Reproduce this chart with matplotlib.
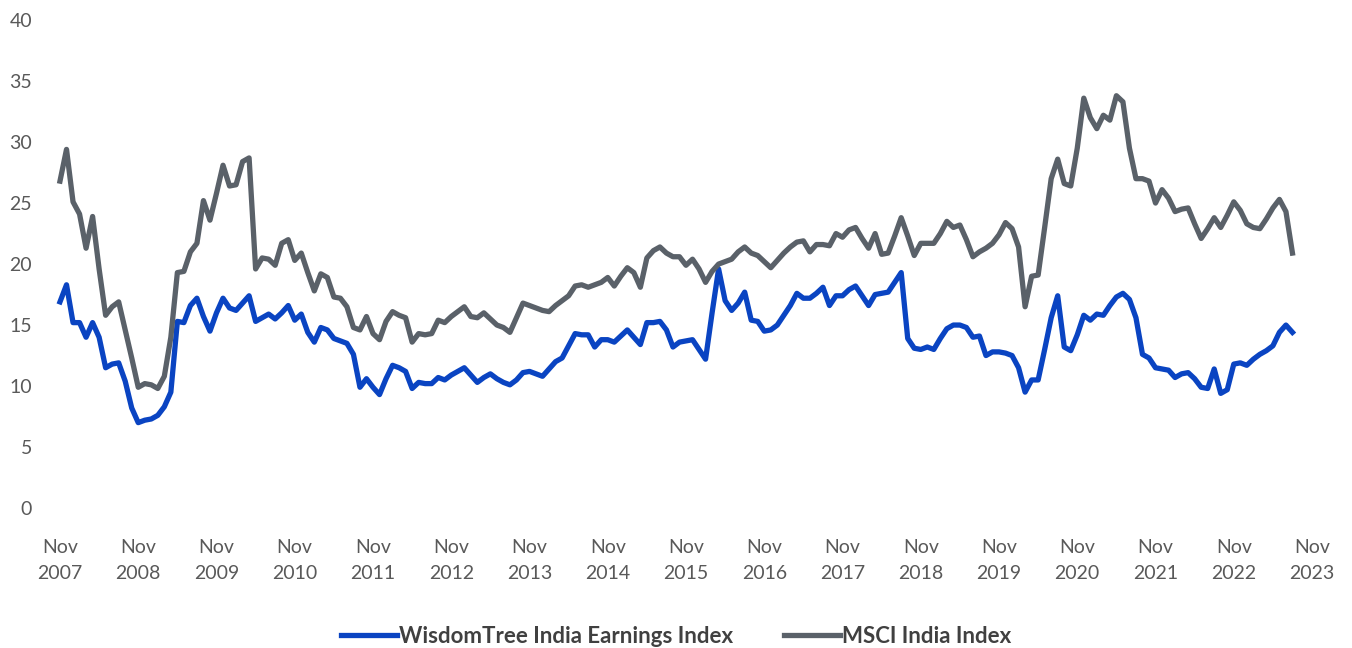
import matplotlib
matplotlib.use("Agg")
import matplotlib.pyplot as plt

plt.rcParams['font.family'] = ['Lato', 'DejaVu Sans']

# monthly values, Nov 2007 onward
wisdomtree = [
    16.9, 18.3, 15.2, 15.2, 14.0, 15.2, 14.0, 11.5, 11.8, 11.9,
    10.4, 8.2, 7.0, 7.2, 7.3, 7.6, 8.3, 9.5, 15.3, 15.2,
    16.6, 17.2, 15.7, 14.5, 16.0, 17.2, 16.4, 16.2, 16.8, 17.4,
    15.3, 15.6, 15.9, 15.5, 16.0, 16.6, 15.4, 15.9, 14.4, 13.6,
    14.8, 14.6, 13.9, 13.7, 13.5, 12.6, 9.9, 10.6, 9.9, 9.3,
    10.6, 11.7, 11.5, 11.2, 9.8, 10.3, 10.2, 10.2, 10.7, 10.5,
    10.9, 11.2, 11.5, 10.9, 10.3, 10.7, 11.0, 10.6, 10.3, 10.1,
    10.5, 11.1, 11.2, 11.0, 10.8, 11.4, 12.0, 12.3, 13.3, 14.3,
    14.2, 14.2, 13.2, 13.8, 13.8, 13.6, 14.1, 14.6, 14.0, 13.4,
    15.2, 15.2, 15.3, 14.6, 13.2, 13.6, 13.7, 13.8, 13.0, 12.2,
    16.0, 19.6, 17.0, 16.2, 16.8, 17.7, 15.4, 15.3, 14.5, 14.6,
    15.0, 15.8, 16.6, 17.6, 17.2, 17.2, 17.6, 18.1, 16.6, 17.4,
    17.4, 17.9, 18.2, 17.4, 16.6, 17.5, 17.6, 17.7, 18.5, 19.3,
    13.9, 13.1, 13.0, 13.2, 13.0, 13.9, 14.7, 15.0, 15.0, 14.8,
    14.0, 14.1, 12.5, 12.8, 12.8, 12.7, 12.5, 11.5, 9.5, 10.5,
    10.5, 13.0, 15.6, 17.4, 13.2, 12.9, 14.2, 15.8, 15.4, 15.9,
    15.8, 16.6, 17.3, 17.6, 17.1, 15.6, 12.6, 12.3, 11.5, 11.4,
    11.3, 10.7, 11.0, 11.1, 10.6, 9.9, 9.8, 11.4, 9.4, 9.7,
    11.8, 11.9, 11.7, 12.2, 12.6, 12.9, 13.3, 14.4, 15.0, 14.4,
]
msci = [
    26.8, 29.4, 25.1, 24.1, 21.3, 23.9, 19.6, 15.8, 16.5, 16.9,
    14.6, 12.3, 9.9, 10.2, 10.1, 9.8, 10.8, 14.0, 19.3, 19.4,
    21.0, 21.7, 25.2, 23.6, 25.8, 28.1, 26.4, 26.5, 28.4, 28.7,
    19.6, 20.5, 20.4, 19.9, 21.7, 22.0, 20.3, 20.9, 19.3, 17.8,
    19.2, 18.9, 17.3, 17.2, 16.5, 14.8, 14.6, 15.7, 14.3, 13.8,
    15.3, 16.1, 15.8, 15.6, 13.6, 14.3, 14.2, 14.3, 15.4, 15.2,
    15.7, 16.1, 16.5, 15.7, 15.6, 16.0, 15.5, 15.0, 14.8, 14.4,
    15.6, 16.8, 16.6, 16.4, 16.2, 16.1, 16.6, 17.0, 17.4, 18.2,
    18.3, 18.1, 18.3, 18.5, 18.9, 18.2, 19.0, 19.7, 19.3, 18.1,
    20.5, 21.1, 21.4, 20.9, 20.6, 20.6, 19.9, 20.4, 19.6, 18.5,
    19.4, 20.0, 20.2, 20.4, 21.0, 21.4, 20.9, 20.7, 20.2, 19.7,
    20.3, 20.9, 21.4, 21.8, 21.9, 21.0, 21.6, 21.6, 21.5, 22.5,
    22.2, 22.8, 23.0, 22.1, 21.3, 22.5, 20.8, 20.9, 22.3, 23.8,
    22.3, 20.7, 21.7, 21.7, 21.7, 22.5, 23.5, 23.0, 23.2, 22.0,
    20.6, 21.0, 21.3, 21.7, 22.4, 23.4, 22.9, 21.4, 16.5, 19.0,
    19.1, 23.0, 27.0, 28.6, 26.6, 26.4, 29.5, 33.6, 32.0, 31.1,
    32.2, 31.8, 33.8, 33.3, 29.5, 27.0, 27.0, 26.8, 25.0, 26.1,
    25.4, 24.3, 24.5, 24.6, 23.3, 22.1, 22.9, 23.8, 23.0, 24.0,
    25.1, 24.4, 23.3, 23.0, 22.9, 23.7, 24.6, 25.3, 24.3, 20.9,
]
years = list(range(2007, 2024))
tick_labels = ['Nov\n{}'.format(y) for y in years]
months = list(range(len(msci)))

fig = plt.figure(figsize=(13.52, 6.48), dpi=100)
ax = fig.add_axes([0.0299, 0.216, 0.955, 0.753])

ax.plot(months, wisdomtree, color='#0A44C2', lw=3.8, label='WisdomTree India Earnings Index',
        solid_joinstyle='round')
ax.plot(months, msci, color='#5A6169', lw=3.8, label='MSCI India Index',
        solid_joinstyle='round')

ax.set_xlim(-3, 195)
ax.set_ylim(0, 40)
ax.set_yticks(range(0, 41, 5))
ax.set_xticks([12 * i for i in range(len(years))])
ax.set_xticklabels(tick_labels, linespacing=1.65)
for s in ax.spines.values():
    s.set_visible(False)
ax.tick_params(axis='both', length=0, labelsize=14, colors='#595959')
ax.tick_params(axis='x', pad=22)
ax.tick_params(axis='y', pad=6)

fig.legend(loc='center', bbox_to_anchor=(0.5, 0.018), ncol=2, frameon=False,
           handlelength=2.5, handletextpad=0.1, columnspacing=2.3,
           prop={'weight': 'bold', 'size': 16}, labelcolor='#404040')

fig.savefig('out.png', dpi=100)
